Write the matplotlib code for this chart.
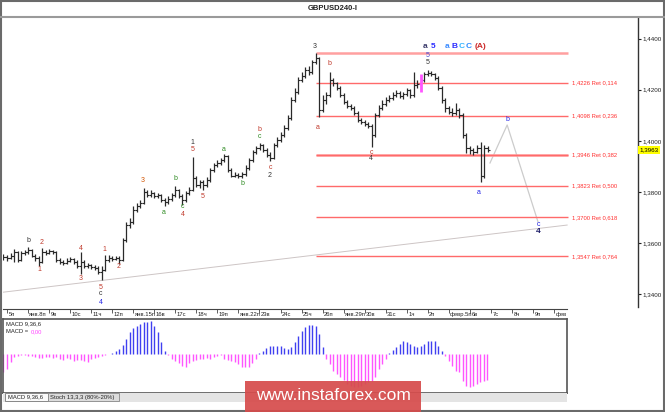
import numpy as np
import matplotlib
matplotlib.use('Agg')
import matplotlib.pyplot as plt
from matplotlib.patches import Rectangle
from matplotlib.lines import Line2D

plt.rcParams['font.family'] = ['Liberation Sans', 'DejaVu Sans']

# H4 bars, index 0 = 5 Jan 00:00, one bar before that
first_bar = -1
close = [1.3545, 1.3541, 1.3548, 1.3564, 1.3533, 1.3560, 1.3564, 1.3572, 1.3548, 1.3541,
         1.3525, 1.3564, 1.3560, 1.3568, 1.3564, 1.3533, 1.3525, 1.3521, 1.3529, 1.3537,
         1.3525, 1.3509, 1.3525, 1.3509, 1.3513, 1.3505, 1.3501, 1.3486, 1.3494, 1.3533,
         1.3541, 1.3537, 1.3541, 1.3533, 1.3611, 1.3670, 1.3682, 1.3729, 1.3744, 1.3756,
         1.3799, 1.3788, 1.3795, 1.3784, 1.3788, 1.3768, 1.3760,
         1.3772, 1.3788, 1.3807, 1.3784, 1.3768, 1.3795, 1.3807, 1.3854, 1.3827, 1.3839,
         1.3827, 1.3846, 1.3886, 1.3905, 1.3913, 1.3925, 1.3940, 1.3886, 1.3862, 1.3866,
         1.3862, 1.3870, 1.3894, 1.3925, 1.3956, 1.3972,
         1.3984, 1.3964, 1.3944, 1.3933, 1.3984, 1.4003, 1.4023, 1.4050, 1.4089, 1.4160,
         1.4191, 1.4238, 1.4254, 1.4278, 1.4270, 1.4309, 1.4325, 1.4121, 1.4160,
         1.4180, 1.4238, 1.4227, 1.4207, 1.4180, 1.4152, 1.4136, 1.4129, 1.4109, 1.4082,
         1.4074, 1.4066, 1.4058, 1.4023, 1.4101, 1.4129, 1.4144, 1.4160,
         1.4168, 1.4180, 1.4187, 1.4176, 1.4184, 1.4199, 1.4180, 1.4219, 1.4223, 1.4238,
         1.4262, 1.4266, 1.4262, 1.4246, 1.4207, 1.4160,
         1.4129, 1.4113, 1.4109, 1.4121, 1.4101, 1.4023, 1.3972, 1.3964, 1.3956, 1.3972,
         1.3862, 1.3972, 1.3963]
high = [1.3556, 1.3552, 1.3560, 1.3576, 1.3568, 1.3568, 1.3572, 1.3584, 1.3576, 1.3556,
        1.3548, 1.3580, 1.3572, 1.3576, 1.3572, 1.3568, 1.3541, 1.3533, 1.3541, 1.3545,
        1.3541, 1.3533, 1.3564, 1.3533, 1.3521, 1.3517, 1.3513, 1.3509, 1.3509, 1.3552,
        1.3552, 1.3548, 1.3548, 1.3548, 1.3619, 1.3682, 1.3697, 1.3744, 1.3756, 1.3768,
        1.3815, 1.3807, 1.3807, 1.3799, 1.3795, 1.3792, 1.3776,
        1.3784, 1.3795, 1.3823, 1.3811, 1.3792, 1.3803, 1.3819, 1.3937, 1.3862, 1.3846,
        1.3846, 1.3858, 1.3894, 1.3913, 1.3925, 1.3933, 1.3948, 1.3944, 1.3894, 1.3878,
        1.3874, 1.3878, 1.3905, 1.3933, 1.3964, 1.3980,
        1.3991, 1.3988, 1.3972, 1.3956, 1.3991, 1.4015, 1.4035, 1.4062, 1.4101, 1.4172,
        1.4207, 1.4250, 1.4270, 1.4289, 1.4293, 1.4317, 1.4344, 1.4329, 1.4180,
        1.4191, 1.4270, 1.4246, 1.4231, 1.4215, 1.4187, 1.4160, 1.4144, 1.4136, 1.4117,
        1.4089, 1.4082, 1.4074, 1.4066, 1.4109, 1.4140, 1.4160, 1.4172,
        1.4180, 1.4191, 1.4199, 1.4195, 1.4191, 1.4207, 1.4203, 1.4270, 1.4238, 1.4262,
        1.4270, 1.4278, 1.4274, 1.4266, 1.4254, 1.4215,
        1.4168, 1.4136, 1.4129, 1.4148, 1.4129, 1.4109, 1.4031, 1.3980, 1.3972, 1.3984,
        1.3995, 1.3984, 1.3980]
low = [1.3533, 1.3529, 1.3537, 1.3525, 1.3525, 1.3529, 1.3552, 1.3556, 1.3545, 1.3529,
       1.3509, 1.3521, 1.3552, 1.3556, 1.3556, 1.3525, 1.3517, 1.3513, 1.3517, 1.3525,
       1.3517, 1.3501, 1.3478, 1.3501, 1.3501, 1.3497, 1.3494, 1.3478, 1.3454, 1.3490,
       1.3525, 1.3529, 1.3533, 1.3517, 1.3529, 1.3603, 1.3658, 1.3674, 1.3721, 1.3737,
       1.3752, 1.3780, 1.3780, 1.3776, 1.3776, 1.3760, 1.3744,
       1.3752, 1.3764, 1.3780, 1.3776, 1.3748, 1.3760, 1.3788, 1.3803, 1.3819, 1.3815,
       1.3807, 1.3819, 1.3839, 1.3878, 1.3897, 1.3905, 1.3917, 1.3878, 1.3858, 1.3858,
       1.3854, 1.3854, 1.3862, 1.3886, 1.3917, 1.3948,
       1.3964, 1.3956, 1.3937, 1.3921, 1.3929, 1.3976, 1.3995, 1.4015, 1.4042, 1.4082,
       1.4152, 1.4184, 1.4231, 1.4246, 1.4258, 1.4262, 1.4301, 1.4093, 1.4113,
       1.4144, 1.4172, 1.4215, 1.4199, 1.4172, 1.4144, 1.4129, 1.4121, 1.4101, 1.4074,
       1.4066, 1.4058, 1.4050, 1.3976, 1.4015, 1.4093, 1.4121, 1.4136,
       1.4152, 1.4160, 1.4172, 1.4168, 1.4164, 1.4176, 1.4168, 1.4172, 1.4207, 1.4191,
       1.4231, 1.4254, 1.4254, 1.4238, 1.4199, 1.4148,
       1.4113, 1.4105, 1.4097, 1.4101, 1.4089, 1.4011, 1.3952, 1.3948, 1.3944, 1.3952,
       1.3839, 1.3854, 1.3956]
marked_bar = 118

# MACD 9,36,6 histogram, pips
macd_hist = [-18, -15, -8, -3, -2, -1, -1, -1.5, -2, -3, -4, -4, -3, -3, -4, -3, -5, -6, -4, -5,
             -7, -6, -6, -7, -8, -5, -4, -2.5, -1.5, -1,
             0.3, 1, 2.7, 5, 9.3, 15, 21.7, 26, 28.3, 30, 31.7, 32.3, 32.7, 28.3, 21.7, 11.7, 3.3,
             -1, -5, -7.3, -9.3, -11.7, -12.7, -9.3, -7.3, -6, -5, -5, -4, -5, -3.3, -1.7, -1,
             -5, -6, -7.3, -8.3, -10, -12.7, -13.3, -12.7, -9.3, -5,
             0.7, 2.7, 6, 8.3, 8.3, 8.3, 8.3, 6, 5, 6.7, 11.7, 18.3, 23.3, 27.3, 29.3, 29.3,
             28.3, 20, 6.7,
             -5, -10, -16.7, -20, -23.3, -26, -30, -31.7, -33.3, -33.3, -31.7, -30, -28.3,
             -26.7, -23.3, -15, -10, -5,
             1, 4, 6.7, 10, 12.7, 11.7, 10, 8.3, 7.3, 8.3, 10, 12.7, 13.3, 13.3, 8.3, 3.3,
             -1.7, -6.7, -11.7, -16.7, -18.3, -26.7, -31.7, -33.3, -31.7, -30, -28.3, -26.7, -26]

fib_top = 1.4345
fib_levels = [1.4226, 1.4098, 1.3946, 1.3823, 1.3700, 1.3547]
fib_ratios = [0.114, 0.236, 0.382, 0.500, 0.618, 0.764]
fib_from, fib_to = 88, 160

trend_x = [-1.1, 159.7]
trend_y = [1.3407, 1.3670]
proj_x = [137.7, 142.6, 151.4]
proj_y = [1.3913, 1.4062, 1.3682]

price_ticks = [1.34, 1.36, 1.38, 1.40, 1.42, 1.44]
last_price = 1.3963

day_labels = ['5п', 'янв.8п', '9в', '10с', '11ч', '12п', 'янв.15п', '16в', '17с', '18ч', '19п',
              'янв.22п', '23в', '24с', '25ч', '26п', 'янв.29п', '30в', '31с', '1ч', '2п',
              'февр.5п', '6в', '7с', '8ч', '9п', 'фев']
bars_per_day = 6

R, G, K, B = '#c0392b', '#2e8b22', '#333333', '#2323e6'
waves = [(6.0, 1.3611, 'b', K), (10.0, 1.3603, '2', R), (9.1, 1.3497, '1', R),
         (21.1, 1.3580, '4', R), (21.1, 1.3462, '3', R), (26.8, 1.3427, '5', R),
         (26.8, 1.3403, 'c', K), (26.8, 1.3368, '4', B), (27.9, 1.3576, '1', R),
         (31.9, 1.3509, '2', R), (38.8, 1.3846, '3', '#d35400'), (44.8, 1.3721, 'a', G),
         (47.9, 1.3854, 'b', G), (49.9, 1.3741, 'c', G), (50.2, 1.3713, '4', R),
         (53.0, 1.3995, '1', K), (53.0, 1.3964, '5', R), (55.9, 1.3780, '5', R),
         (61.9, 1.3964, 'a', G), (67.0, 1.3831, 'b', G), (71.9, 1.4046, 'b', R),
         (71.9, 1.4015, 'c', G), (75.0, 1.3897, 'c', R), (75.0, 1.3866, '2', K),
         (87.8, 1.4368, '3', K), (88.7, 1.4054, 'a', R), (91.8, 1.4301, 'b', R),
         (103.8, 1.3956, 'c', R), (103.8, 1.3929, '4', K), (119.8, 1.4336, '5', '#4a4ad0'),
         (119.8, 1.4305, '5', K), (134.6, 1.3799, 'a', B), (142.6, 1.4082, 'b', B),
         (151.4, 1.3674, 'c', B)]
head_y = 1.4369
head = [(119.2, 'a', '#3a3a6a'), (121.4, '5', '#2b2bff'), (125.6, 'a', '#3c8cff'),
        (127.6, 'B', '#2b2bff'), (129.6, 'C', '#34b4ff'), (131.5, 'C', '#2d8cff'),
        (135.0, '(A)', '#cc2a2a')]

W, H = 665, 412


def frac(x0, y0, x1, y1):
    return [x0 / W, 1 - y1 / H, (x1 - x0) / W, (y1 - y0) / H]


def comma(v, n=4):
    return f'{v:.{n}f}'.replace('.', ',')


fig = plt.figure(figsize=(W / 100, H / 100), dpi=100)
fig.patch.set_facecolor('white')

x = np.arange(len(close)) + first_bar
opens = np.r_[close[0], close[:-1]]
cols = ['#ff55ff' if i == marked_bar else '#2a2a2a' for i in x]
lws = [2.0 if i == marked_bar else 0.9 for i in x]

ax = fig.add_axes(frac(3, 18, 638, 307))
ax.plot(trend_x, trend_y, color='#cdc5c5', lw=0.7)
ax.plot(proj_x, proj_y, color='#cccccc', lw=0.9)
ax.hlines([fib_top, fib_levels[2]], fib_from, fib_to, color='#ffa0a0', lw=1.8)
ax.hlines(fib_levels, fib_from, fib_to, color='#ff6a6a', lw=1)
for lv, r in zip(fib_levels, fib_ratios):
    ax.text(fib_to + 1.2, lv, f'{comma(lv)} Ret {comma(r, 3)}', color='#ff3030',
            fontsize=4.2, va='center', ha='left')
ax.vlines(x, low, high, colors=cols, lw=lws)
ax.hlines(opens, x - 0.6, x, colors=cols, lw=0.8)
ax.hlines(close, x, x + 0.6, colors=cols, lw=0.8)

for i, p, t, c in waves:
    ax.text(i, p, t, color=c, fontsize=5, ha='center', va='center')
ax.text(151.4, 1.3646, '4', color='#1a1a66', fontsize=6, fontweight='bold', ha='center', va='center')
for i, t, c in head:
    ax.text(i, head_y, t, color=c, fontsize=6, fontweight='bold', ha='center', va='center')

ax.set_xlim(-1.14, 179.9)
ax.set_ylim(1.3349, 1.4481)
for s in ['top', 'left', 'bottom']:
    ax.spines[s].set_visible(False)
ax.spines['right'].set_color('#333333')
ax.spines['right'].set_linewidth(1)
ax.yaxis.tick_right()
ax.set_yticks(price_ticks)
ax.set_yticklabels([comma(v) for v in price_ticks])
ax.tick_params(axis='y', length=2.5, width=0.8, labelsize=4.5, pad=1, colors='#222222')
ax.set_xticks([])
ax.annotate(comma(last_price), xy=(1, last_price), xycoords=('axes fraction', 'data'),
            xytext=(1.2, 0), textcoords='offset points', va='center', ha='left', fontsize=4.5,
            bbox=dict(boxstyle='square,pad=0.2', fc='#ffff00', ec='none'))

# time scale
axt = fig.add_axes(frac(3, 309, 567, 319))
axt.set_xlim(-1.14, 159.7)
axt.set_ylim(0, 1)
axt.patch.set_alpha(0)
for s in ['left', 'right', 'bottom']:
    axt.spines[s].set_visible(False)
axt.spines['top'].set_color('#444444')
axt.xaxis.tick_top()
axt.set_xticks(np.arange(len(day_labels)) * bars_per_day)
axt.tick_params(axis='x', direction='in', length=3, width=0.6, labeltop=False, colors='#444444')
axt.set_yticks([])
for d, lab in enumerate(day_labels):
    axt.text(d * bars_per_day + 0.4, 0.45, lab, fontsize=4.2, va='center', ha='left', color='#222222')

# MACD window
axm = fig.add_axes(frac(3, 319, 567, 393))
axm.set_xlim(-1.14, 159.7)
axm.set_ylim(-39, 35)
hist = np.array(macd_hist)
axm.vlines(x, 0, hist, colors=np.where(hist > 0, '#4040f0', '#ff55ff'), lw=1)
axm.set_xticks([])
axm.set_yticks([])
for s in axm.spines.values():
    s.set_color('#555555')
    s.set_linewidth(1.2)
axm.text(0.006, 0.93, 'MACD 9,36,6', transform=axm.transAxes, fontsize=4.2, color='#222222', va='center')
lbl = axm.text(0.006, 0.83, 'MACD =', transform=axm.transAxes, fontsize=4.2, color='#222222', va='center')
axm.annotate('0,00', xy=(1, 0.5), xycoords=lbl, xytext=(1.5, 0), textcoords='offset points',
             fontsize=4.2, color='#ff44ff', va='center', ha='left')

# tabs
fig.add_artist(Rectangle((3 / W, 1 - 402 / H), 564 / W, 9 / H, transform=fig.transFigure,
                         fc='#e4e4e4', ec='none'))
fig.add_artist(Rectangle((5 / W, 1 - 401 / H), 43 / W, 8 / H, transform=fig.transFigure,
                         fc='#fafafa', ec='#777777', lw=0.6))
fig.add_artist(Rectangle((48 / W, 1 - 401 / H), 71 / W, 8 / H, transform=fig.transFigure,
                         fc='#dcdcdc', ec='#888888', lw=0.6))
fig.text(8 / W, 1 - 397 / H, 'MACD 9,36,6', fontsize=4.2, va='center', color='#222222')
fig.text(50 / W, 1 - 397 / H, 'Stoch 13,3,3 (80%-20%)', fontsize=4.2, va='center', color='#222222')

# watermark
fig.add_artist(Rectangle((245 / W, 0), 176 / W, 31 / H, transform=fig.transFigure,
                         fc='#d64b4b', ec='none', alpha=0.92, zorder=10))
fig.text(333 / W, 1 - 396 / H, 'www.instaforex.com', color='white', fontsize=12.5,
         ha='center', va='center', zorder=11)

# title bar and frame
fig.text(333 / W, 1 - 8 / H, 'GBPUSD240-I', fontsize=5.5, fontweight='bold', ha='center',
         va='center', color='#222222')
fig.add_artist(Line2D([0, 1], [1 - 17 / H] * 2, color='#9a9a9a', lw=1.5, transform=fig.transFigure))
fig.add_artist(Rectangle((0.7 / W, 0.7 / H), 1 - 1.4 / W, 1 - 1.4 / H, transform=fig.transFigure,
                         fc='none', ec='#6a6a6a', lw=1.5))

fig.savefig('out.png', dpi=100)
